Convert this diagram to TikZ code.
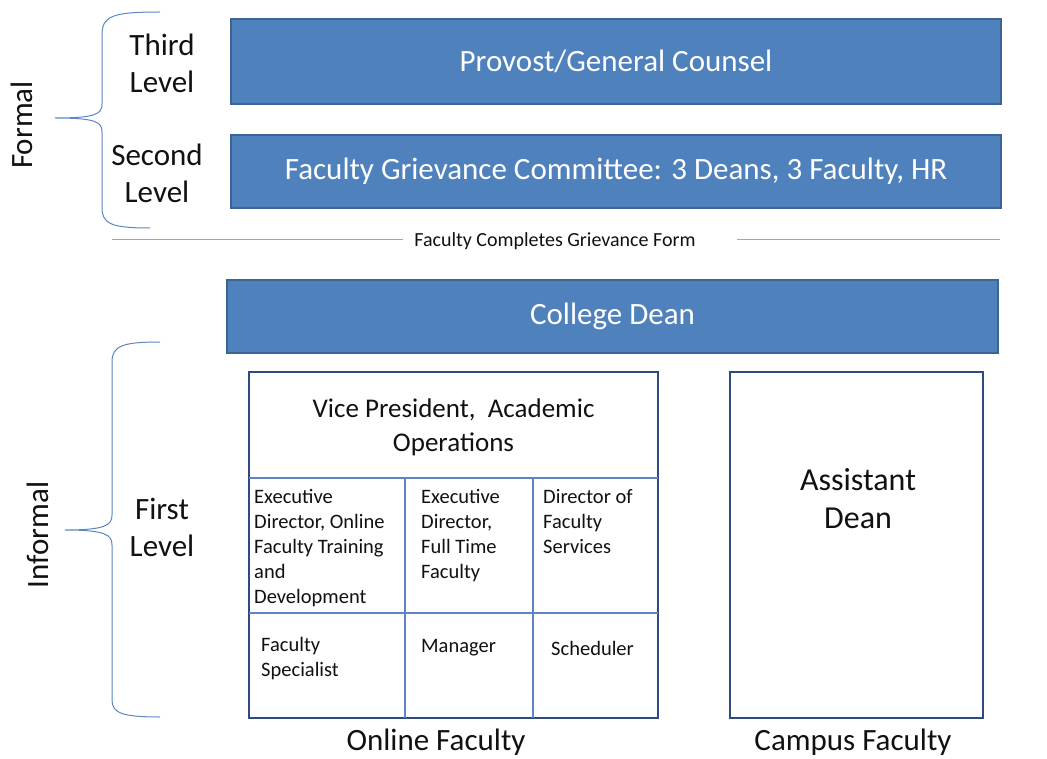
\documentclass[tikz,border=0pt]{standalone}
\usepackage{fontspec}
\setmainfont{Carlito}
\definecolor{bfill}{HTML}{4F81BD}
\definecolor{bedge}{HTML}{3A6595}
\definecolor{dedge}{HTML}{2F4B7C}
\definecolor{ledge}{HTML}{5B86C0}
\definecolor{txt}{HTML}{111111}
\tikzset{
  bluebox/.style={draw=bedge, line width=2pt, fill=bfill, text=white, inner sep=0pt, font=\fontsize{31}{36}\selectfont},
  whitebox/.style={draw=dedge, line width=2.6pt, fill=white, inner sep=0pt},
  brace/.style={draw=ledge, line width=1pt},
  cell/.style={anchor=north west, align=left, font=\fontsize{20.5}{25}\selectfont, text=txt, inner sep=0pt},
  lbl/.style={font=\fontsize{31}{37}\selectfont, text=txt, align=center},
}
\begin{document}
\begin{tikzpicture}[x=1pt,y=-1pt]
\useasboundingbox (0,0) rectangle (1047,759);
% blue boxes
\node[bluebox, minimum width=770, minimum height=85] (prov) at (616,61.5) {Provost/General Counsel};
\node[bluebox, minimum width=770, minimum height=73] (fgc) at (616,171.5) {Faculty Grievance Committee: 3 Deans, 3 Faculty, HR};
\node[bluebox, minimum width=771, minimum height=73] (dean) at (612.5,316.5) {College Dean};
% separator
\node[font=\fontsize{20}{22}\selectfont, text=txt] (form) at (555,241) {Faculty Completes Grievance Form};
\coordinate (sepL) at (112,239);
\coordinate (sepR) at (1000,239);
\draw[draw=ledge!70, line width=0.9pt] (sepL) -- ([xshift=-8]form.west |- sepL);
\draw[draw=ledge!70, line width=0.9pt] ([xshift=38]form.east |- sepR) -- (sepR);
% online faculty box
\node[whitebox, minimum width=409, minimum height=346] (online) at (453.5,545) {};
\coordinate (h1L) at (249,478); \coordinate (h1R) at (658,478);
\coordinate (h2L) at (249,613); \coordinate (h2R) at (658,613);
\coordinate (v1T) at (405,478); \coordinate (v1B) at (405,718);
\coordinate (v2T) at (533,478); \coordinate (v2B) at (533,718);
\draw[draw=ledge, line width=1.3pt] (h1L) -- (h1R) (h2L) -- (h2R) (v1T) -- (v1B) (v2T) -- (v2B);
\node[font=\fontsize{27}{34}\selectfont, text=txt, align=center] (vp) at (453.5,427) {Vice President,~ Academic\\Operations};
\node[cell] (c1) at (254,489) {Executive\\Director, Online\\Faculty Training\\and\\Development};
\node[cell] (c2) at (421,489) {Executive\\Director,\\Full Time\\Faculty};
\node[cell] (c3) at (543,489) {Director of\\Faculty\\Services};
\node[cell] (c4) at (261,637) {Faculty\\Specialist};
\node[cell] (c5) at (421,639) {Manager};
\node[cell] (c6) at (551,641) {Scheduler};
% campus box
\node[whitebox, minimum width=253, minimum height=346] (campus) at (856.5,545) {};
\node[font=\fontsize{32}{38}\selectfont, text=txt, align=center] (adean) at (858,499) {Assistant\\Dean};
% captions
\node[lbl] (onl) at (436,742) {Online Faculty};
\node[lbl] (camp) at (853,742) {Campus Faculty};
% level labels
\node[lbl] (third) at (162,63.5) {Third\\Level};
\node[lbl] (second) at (157,173.5) {Second\\Level};
\node[lbl] (first) at (162,527) {First\\Level};
\node[lbl, rotate=90] (formal) at (22,125) {Formal};
\node[lbl, rotate=90] (informal) at (38,535) {Informal};
% braces
\draw[brace] (160,12) .. controls (112,12) and (102,16) .. (102,35) -- (102,104)
  .. controls (102,114) and (96,118) .. (55,118)
  .. controls (96,118) and (102,122) .. (102,132) -- (102,208)
  .. controls (102,224) and (112,228) .. (150,228);
\draw[brace] (160,342) .. controls (122,342) and (112,346) .. (112,362) -- (112,515)
  .. controls (112,525) and (106,530) .. (65,530)
  .. controls (106,530) and (112,535) .. (112,545) -- (112,700)
  .. controls (112,713) and (122,717) .. (160,717);
\end{tikzpicture}
\end{document}
